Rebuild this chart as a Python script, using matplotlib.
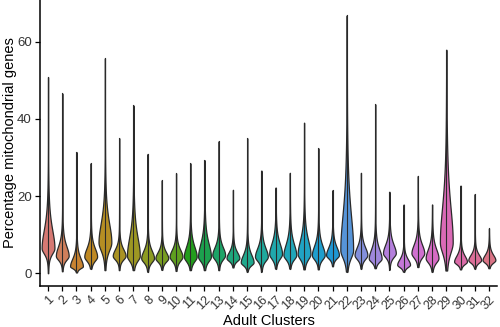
import numpy as np
import matplotlib
matplotlib.use("Agg")
import matplotlib.pyplot as plt

plt.rcParams['font.family'] = ['Liberation Sans', 'DejaVu Sans']

# values (percentage mitochondrial genes per cluster)
clusters = [str(i) for i in range(1, 33)]
bottom = [0.0, 0.5, 0.2, 1.2, 0.8, 0.8, 0.8, 0.4, 0.9, 0.6, 0.8, 0.8, 0.8, 1.5, 0.4, 0.4,
          1.2, 1.2, 1.0, 1.0, 1.8, 0.4, 1.2, 1.3, 0.9, 0.4, 1.6, 0.4, 0.7, 1.0, 1.2, 1.3]
mode = [6.5, 4.5, 1.8, 4.3, 8.0, 4.5, 4.5, 3.9, 3.9, 4.3, 4.3, 4.3, 4.7, 3.9, 2.8, 4.3,
        5.0, 4.7, 5.0, 4.7, 4.7, 6.0, 4.7, 3.8, 5.2, 2.2, 5.2, 3.9, 8.0, 3.0, 3.4, 3.4]
low_tip = [2.8, 1.8, 0.5, 1.5, 2.5, 2.0, 1.2, 1.2, 1.5, 1.5, 1.2, 1.3, 1.8, 2.0, 0.9, 1.5,
           1.8, 1.8, 1.5, 1.8, 2.5, 0.8, 2.0, 1.6, 2.5, 0.6, 2.2, 1.0, 1.0, 1.3, 1.6, 1.6]
body_top = [19, 11, 7, 10, 21, 9, 17, 9, 8, 9, 11, 13, 10, 8, 8, 10,
            12, 12, 14, 11, 10, 30, 10, 10, 11, 6, 11, 10, 32, 7, 7, 7]
top = [50.8, 46.6, 31.4, 28.5, 55.7, 35.0, 43.5, 30.9, 24.1, 25.9, 28.5, 29.3, 34.2, 21.6,
       35.0, 26.6, 22.2, 26.0, 39.0, 32.4, 21.5, 66.8, 26.0, 43.8, 21.1, 17.8, 25.2, 17.8,
       57.9, 22.7, 20.5, 11.6]


def hue_pal(n):
    # ggplot2 default: hcl(h, c=100, l=65)
    hues = np.linspace(15, 375, n + 1)[:-1]
    L, C = 65.0, 100.0
    Xn, Yn, Zn = 95.047, 100.0, 108.883
    un = 4 * Xn / (Xn + 15 * Yn + 3 * Zn)
    vn = 9 * Yn / (Xn + 15 * Yn + 3 * Zn)
    m = np.array([[3.2404542, -1.5371385, -0.4985314],
                  [-0.9692660, 1.8760108, 0.0415560],
                  [0.0556434, -0.2040259, 1.0572252]])
    out = []
    for h in hues:
        u = C * np.cos(np.radians(h))
        v = C * np.sin(np.radians(h))
        Y = Yn * ((L + 16) / 116) ** 3
        up = u / (13 * L) + un
        vp = v / (13 * L) + vn
        X = Y * 9 * up / (4 * vp)
        Z = Y * (12 - 3 * up - 20 * vp) / (4 * vp)
        rgb = m @ (np.array([X, Y, Z]) / 100)
        rgb = np.where(rgb <= 0.0031308, 12.92 * rgb, 1.055 * np.abs(rgb) ** (1 / 2.4) - 0.055)
        rgb = np.clip(rgb, 0, 1)
        # the reference looks muted: pull toward grey a bit and darken slightly
        lum = 0.299 * rgb[0] + 0.587 * rgb[1] + 0.114 * rgb[2]
        rgb = (lum + 0.75 * (rgb - lum)) * 0.95
        out.append(np.clip(rgb, 0, 1))
    return out


colors = hue_pal(len(clusters))

fig = plt.figure(figsize=(5, 3.27), dpi=100)
ax = fig.add_axes([0.079, 0.125, 0.916, 0.875])

nu = 3.0
for i in range(len(clusters)):
    y = np.linspace(bottom[i], top[i], 600)
    s_lo = (mode[i] - low_tip[i]) / 2.2
    s_hi = (body_top[i] - mode[i]) / 2.2
    s = np.where(y < mode[i], s_lo, s_hi)
    d = (y - mode[i]) / s
    f = (1 + d ** 2 / nu) ** (-(nu + 1) / 2)
    w = 0.45 * f / f.max()
    ax.fill_betweenx(y, i + 1 - w, i + 1 + w, facecolor=colors[i],
                     edgecolor='#2a2a2a', linewidth=0.9, zorder=2)
    ax.plot([i + 1, i + 1], [bottom[i], top[i]], color='#2a2a2a', lw=0.8, zorder=3)

ax.set_xlim(0.4, len(clusters) + 0.6)
ax.set_ylim(-3.35, 70.8)
ax.set_xticks(range(1, len(clusters) + 1))
ax.set_xticklabels(clusters, rotation=45, ha='right', va='top', rotation_mode='anchor')
ax.set_yticks([0, 20, 40, 60])
for sp in ['top', 'right']:
    ax.spines[sp].set_visible(False)
for sp in ['left', 'bottom']:
    ax.spines[sp].set_linewidth(1.1)
ax.tick_params(axis='both', colors='black', labelcolor='#333333', length=3.5, width=0.9)
ax.tick_params(axis='x', labelsize=9, pad=2)
ax.tick_params(axis='y', labelsize=9.5, pad=2)
ax.set_xlabel('Adult Clusters', fontsize=10.5, labelpad=1)
ax.set_ylabel('Percentage mitochondrial genes', fontsize=10.5, va='center')
ax.yaxis.set_label_coords(-0.064, 0.5)

fig.savefig('out.png', dpi=100)
